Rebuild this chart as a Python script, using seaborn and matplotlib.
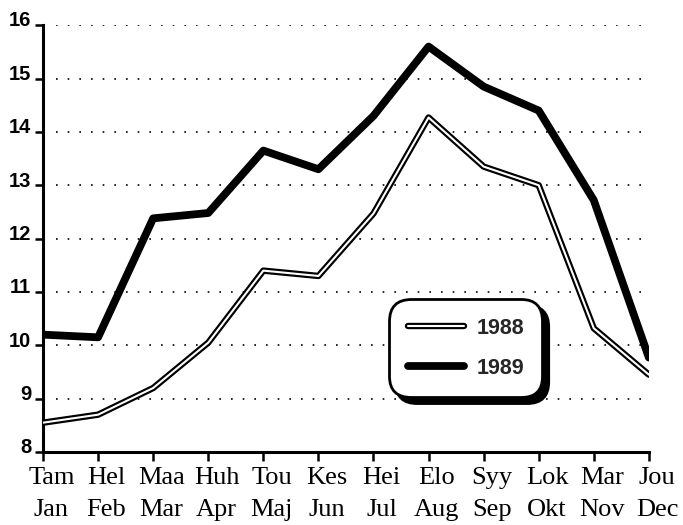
import matplotlib
matplotlib.use("Agg")
import matplotlib.pyplot as plt
import matplotlib.patheffects as pe
import matplotlib.transforms as mtrans
import seaborn as sns
import pandas as pd

months_fi = ["Tam", "Hel", "Maa", "Huh", "Tou", "Kes", "Hei", "Elo", "Syy", "Lok", "Mar", "Jou"]
months_sv = ["Jan", "Feb", "Mar", "Apr", "Maj", "Jun", "Jul", "Aug", "Sep", "Okt", "Nov", "Dec"]
y1988 = [8.55, 8.7, 9.2, 10.05, 11.4, 11.3, 12.47, 14.27, 13.35, 13.0, 10.32, 9.45]
y1989 = [10.2, 10.15, 12.38, 12.48, 13.65, 13.3, 14.3, 15.6, 14.85, 14.4, 12.72, 9.77]
yticks = [8, 9, 10, 11, 12, 13, 14, 15, 16]

sns.set_theme(style="white")
plt.rcParams['font.family'] = ['Liberation Sans', 'DejaVu Sans']

fig = plt.figure(figsize=(6.83, 5.25), dpi=100, facecolor="white")
ax = fig.add_axes([0.063, 0.139, 0.887, 0.813])
ax.set_facecolor("white")

pos = list(range(len(months_fi)))
df = pd.DataFrame({"pos": pos, "y1988": y1988, "y1989": y1989})

# dotted grid lines
for v in yticks[1:]:
    ax.axhline(v, xmin=0.022, xmax=1.0, color="black", lw=1.2,
               linestyle=(0, (1, 6.0)), zorder=1)

sns.lineplot(data=df, x="pos", y="y1988", ax=ax, color="white", lw=1.5,
             label="1988", zorder=3,
             path_effects=[pe.Stroke(linewidth=4.6, foreground="black"), pe.Normal()])
sns.lineplot(data=df, x="pos", y="y1989", ax=ax, color="black", lw=5.6,
             label="1989", zorder=4)

ax.set_xlim(0, 11)
ax.set_ylim(8, 16)
ax.set_yticks(yticks)
ax.set_yticklabels([str(v) for v in yticks], fontsize=14.5, fontweight="bold")
ax.set_xticks(pos)
ax.set_xticklabels([f"{a}\n{b}" for a, b in zip(months_fi, months_sv)],
                   fontsize=19, family="Liberation Serif",
                   linespacing=1.55)
ax.set_xlabel("")
ax.set_ylabel("")

for s in ["top", "right"]:
    ax.spines[s].set_visible(False)
for s in ["left", "bottom"]:
    ax.spines[s].set_color("black")
    ax.spines[s].set_linewidth(2.2)
ax.tick_params(axis="y", direction="out", length=5.5, width=1.8, pad=3, colors="black", left=True)
ax.tick_params(axis="x", direction="out", length=6.5, width=1.8, pad=4.5, colors="black", bottom=True)

# month labels sit slightly right of ticks, y labels sit on top of ticks
xoff = mtrans.ScaledTranslation(6 / 72, 0, fig.dpi_scale_trans)
for lab in ax.get_xticklabels():
    lab.set_transform(lab.get_transform() + xoff)
yoff = mtrans.ScaledTranslation(0, 4.5 / 72, fig.dpi_scale_trans)
for lab in ax.get_yticklabels():
    lab.set_transform(lab.get_transform() + yoff)

leg = ax.legend(loc="center", bbox_to_anchor=(0.698, 0.243),
                prop={"size": 15.5, "weight": "bold"},
                frameon=True, fancybox=True, handlelength=2.6, handletextpad=0.6,
                labelspacing=0.9, borderpad=0.35,
                shadow={"ox": 4.5, "oy": -4.5, "color": "black", "alpha": 1.0})
frame = leg.get_frame()
frame.set_edgecolor("black")
frame.set_linewidth(2.0)
frame.set_facecolor("white")
frame.set_alpha(1.0)
frame.set_boxstyle("round,pad=0.5,rounding_size=1.0")

fig.savefig("out.png", dpi=100, facecolor="white")
